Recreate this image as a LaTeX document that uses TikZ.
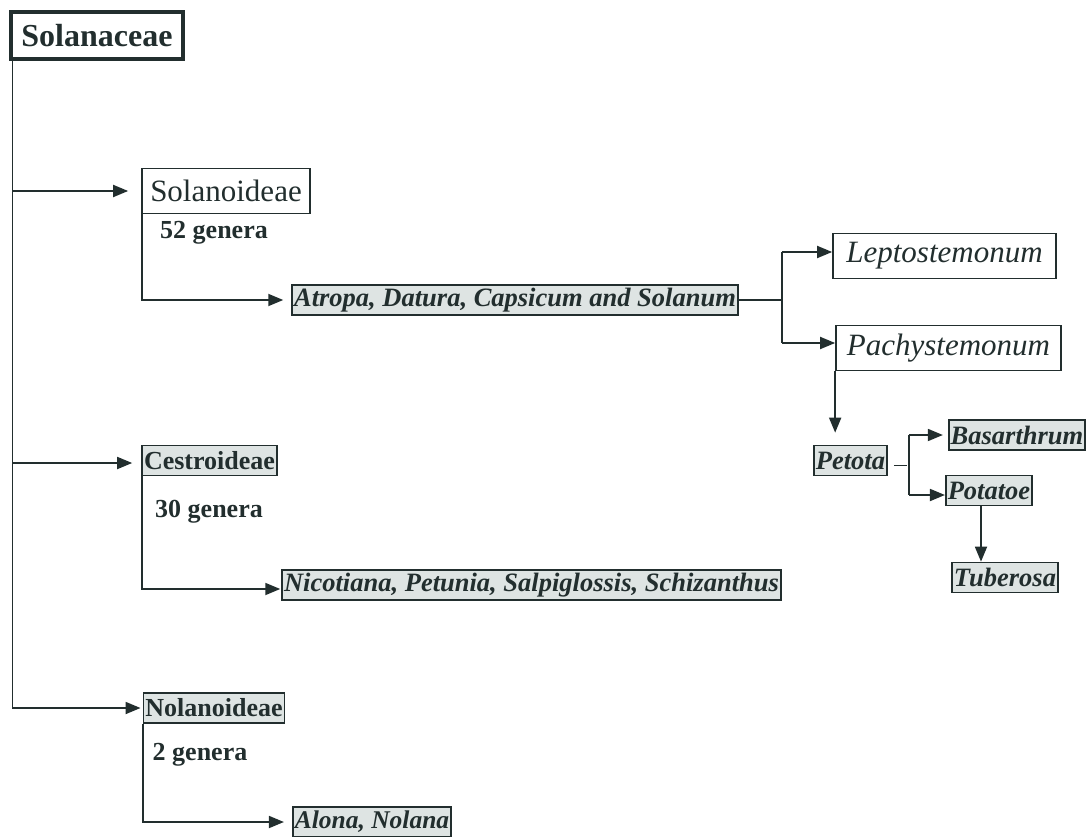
\documentclass[tikz,border=0pt]{standalone}
\usepackage{fontspec}
\setmainfont{Liberation Serif}
\usepackage{tikz}
\usetikzlibrary{arrows.meta}

\definecolor{inkcol}{RGB}{34,46,46}
\definecolor{shadecol}{RGB}{222,228,227}

\begin{document}
\begin{tikzpicture}[
    x=1pt, y=-1pt,
    famnode/.style={rectangle, draw=inkcol, line width=3.2pt, fill=white, text=inkcol, minimum width=172pt, minimum height=47pt, font=\fontsize{32}{36}\selectfont\bfseries},
    plainbox/.style={rectangle, draw=inkcol, line width=1.7pt, fill=white, text=inkcol, minimum height=45pt, font=\fontsize{31}{35}\selectfont},
    itplain/.style={plainbox, font=\fontsize{31}{35}\selectfont\itshape},
    shadebox/.style={rectangle, draw=inkcol, line width=1.7pt, fill=shadecol, text=inkcol, inner xsep=2pt, inner ysep=0pt, minimum height=30pt},
    boldbox/.style={shadebox, font=\fontsize{26}{30}\selectfont\bfseries},
    bibox/.style={shadebox, font=\fontsize{26.5}{30}\selectfont\bfseries\itshape},
    genlabel/.style={text=inkcol, font=\fontsize{26}{30}\selectfont\bfseries},
    connline/.style={draw=inkcol, line width=1.8pt},
    arrow/.style={connline, -{Triangle[length=15pt, width=12pt]}}
]
    \useasboundingbox (0,0) rectangle (1089,837);

    % Nodes
    \node[famnode] (fam) at (97,35.5) {Solanaceae};

    \node[plainbox, minimum width=168pt] (solan) at (226,191) {Solanoideae};
    \node[genlabel] (gen52) at (214,233) {52 genera};
    \node[bibox] (atropa) at (515,300) {Atropa, Datura, Capsicum and Solanum};

    \node[itplain, minimum width=223pt] (lepto) at (944.5,256) {Leptostemonum};
    \node[itplain, minimum width=225pt] (pachy) at (948.5,348) {Pachystemonum};

    \node[bibox] (petota) at (850.5,460.5) {Petota};
    \node[bibox] (basar) at (1017,435) {Basarthrum};
    \node[bibox] (potatoe) at (989,490.5) {Potatoe};
    \node[bibox] (tuber) at (1005,577.5) {Tuberosa};

    \node[boldbox] (cestro) at (209.5,460.5) {Cestroideae};
    \node[genlabel] (gen30) at (209,512) {30 genera};
    \node[bibox] (nicot) at (531.5,585) {Nicotiana, Petunia, Salpiglossis, Schizanthus};

    \node[boldbox] (nolan) at (214,708) {Nolanoideae};
    \node[genlabel] (gen2) at (200,755) {2 genera};
    \node[bibox, font=\fontsize{25.5}{30}\selectfont\bfseries\itshape] (alona) at (372,822) {Alona, Nolana};

    % Coordinates for the branch points
    \coordinate (trunk) at ([xshift=3pt]fam.south west);
    \coordinate (split) at ([xshift=43pt]atropa.east);
    \coordinate (fork) at ([xshift=21pt,yshift=-5pt]petota.east);

    % Arrows
    \draw[connline] (trunk) -- (trunk |- nolan.west);
    \draw[arrow, shorten >=13pt] (trunk |- solan.west) -- (solan.west);
    \draw[arrow, shorten >=9pt] ([yshift=-2.5pt]trunk |- cestro.west) -- ([yshift=-2.5pt]cestro.west);
    \draw[arrow, shorten >=2pt] (trunk |- nolan.west) -- (nolan.west);

    \draw[arrow, shorten >=8pt] ([xshift=0.5pt]solan.south west) |- (atropa.west);
    \draw[connline] (atropa.east) -- (split);
    \draw[arrow] ([yshift=4pt]split |- lepto.west) -- ([yshift=4pt]lepto.west);
    \draw[connline] ([yshift=4pt]split |- lepto.west) -- ([yshift=5pt]split |- pachy.west);
    \draw[arrow] ([yshift=5pt]split |- pachy.west) -- ([yshift=5pt]pachy.west);

    \draw[arrow, shorten >=12pt] (pachy.south west) -- (pachy.south west |- petota.north);
    \draw[connline] ([xshift=6pt]petota.east |- fork) -- ([xshift=-2pt]fork);
    \draw[connline] (fork |- basar.west) -- ([yshift=-4.5pt]fork |- potatoe.west);
    \draw[arrow, shorten >=5pt] (fork |- basar.west) -- (basar.west);
    \draw[arrow] ([yshift=-4.5pt]fork |- potatoe.west) -- ([yshift=-4.5pt]potatoe.west);
    \draw[arrow] ([xshift=-8pt]potatoe.south) -- ([xshift=-8pt]potatoe.south |- tuber.north);

    \draw[arrow, shorten >=1pt] ([xshift=0.5pt]cestro.south west) |- ([yshift=-4pt]nicot.west);
    \draw[arrow, shorten >=8pt] ([xshift=0.5pt]nolan.south west) |- (alona.west);

\end{tikzpicture}
\end{document}
